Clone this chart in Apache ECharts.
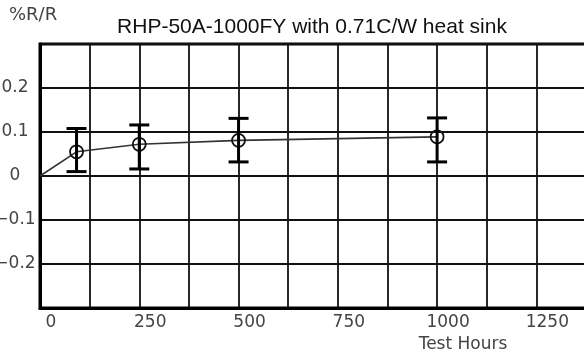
<!DOCTYPE html>
<html>
<head>
<meta charset="utf-8">
<script src="https://cdn.jsdelivr.net/npm/echarts@6/dist/echarts.min.js"></script>
<style>html,body{margin:0;padding:0;background:#fff}#c{width:584px;height:353px}</style>
</head>
<body>
<div id="c"></div>
<script>
// Data
var testHours = [0, 92, 250, 500, 1000];
var meanShift = [0, 0.055, 0.072, 0.081, 0.089];
var errHours = [92, 250, 500, 1000];
var errLow = [0.010, 0.016, 0.032, 0.032];
var errHigh = [0.108, 0.116, 0.131, 0.132];
var xTickLabels = {0:'0', 250:'250', 500:'500', 750:'750', 1000:'1000', 1250:'1250'};
var yTickLabels = {'0.2':'0.2', '0.1':'0.1', '0':'0', '-0.1':'\u22120.1', '-0.2':'\u22120.2'};

var lineData = testHours.map(function (h, i) { return [h, meanShift[i]]; });
var errData = errHours.map(function (h, i) { return [h, errLow[i], errHigh[i]]; });

var chart = echarts.init(document.getElementById('c'), null, {renderer: 'canvas'});
chart.setOption({
  animation: false,
  backgroundColor: '#fff',
  graphic: [{
    type: 'text', left: 9, top: 6,
    style: {text: '%R/R', font: '18px "DejaVu Sans"', fill: '#444'}
  }, {
    type: 'text', x: 312, y: 27,
    style: {text: 'RHP-50A-1000FY with 0.71C/W heat sink', font: '21px "Liberation Sans"', fill: '#111',
      align: 'center', verticalAlign: 'middle'}
  }],
  grid: {left: 40, top: 44, width: 546, height: 264, containLabel: false, outerBoundsMode: 'none',
    show: true, borderColor: '#000', borderWidth: 3, backgroundColor: 'transparent'},
  xAxis: {
    type: 'value', min: 0, max: 1375, interval: 125,
    name: 'Test Hours', nameLocation: 'middle', nameGap: 27,
    nameTextStyle: {fontFamily: 'DejaVu Sans', fontSize: 17, color: '#444', padding: [0, 0, 0, 300]},
    axisLine: {show: true, onZero: false, lineStyle: {color: '#000', width: 3}},
    axisTick: {show: false},
    splitLine: {show: true, lineStyle: {color: '#111', width: 1.8}},
    axisLabel: {
      margin: 6, fontFamily: 'DejaVu Sans', fontSize: 17, color: '#444', padding: [0, 0, 0, 22],
      formatter: function (v) { return xTickLabels[v] !== undefined ? xTickLabels[v] : ''; }
    }
  },
  yAxis: {
    type: 'value', min: -0.3, max: 0.3, interval: 0.1,
    axisLine: {show: true, onZero: false, lineStyle: {color: '#000', width: 3}},
    axisTick: {show: false},
    splitLine: {show: true, lineStyle: {color: '#111', width: 1.8}},
    axisLabel: {
      margin: 25, align: 'center', fontFamily: 'DejaVu Sans', fontSize: 17, color: '#444', padding: [0, 0, 16, 0],
      formatter: function (v) { var k = String(Math.round(v * 10) / 10); return yTickLabels[k] !== undefined ? yTickLabels[k] : ''; }
    }
  },
  series: [
    {
      type: 'line', data: lineData, z: 3,
      lineStyle: {color: '#333', width: 1.6},
      symbol: 'circle', symbolSize: function (v, p) { return p.dataIndex === 0 ? 0 : 13; },
      showSymbol: true,
      itemStyle: {color: 'rgba(0,0,0,0)', borderColor: '#111', borderWidth: 1.8}
    },
    {
      type: 'custom', data: errData, z: 4,
      renderItem: function (params, api) {
        var x = api.value(0);
        var lo = api.coord([x, api.value(1)]);
        var hi = api.coord([x, api.value(2)]);
        var hw = 10;
        var st = {stroke: '#000', lineWidth: 3};
        return {
          type: 'group', children: [
            {type: 'line', shape: {x1: lo[0], y1: lo[1], x2: hi[0], y2: hi[1]}, style: st},
            {type: 'line', shape: {x1: lo[0] - hw, y1: lo[1], x2: lo[0] + hw, y2: lo[1]}, style: st},
            {type: 'line', shape: {x1: hi[0] - hw, y1: hi[1], x2: hi[0] + hw, y2: hi[1]}, style: st}
          ]
        };
      }
    }
  ]
});
</script>
</body>
</html>
